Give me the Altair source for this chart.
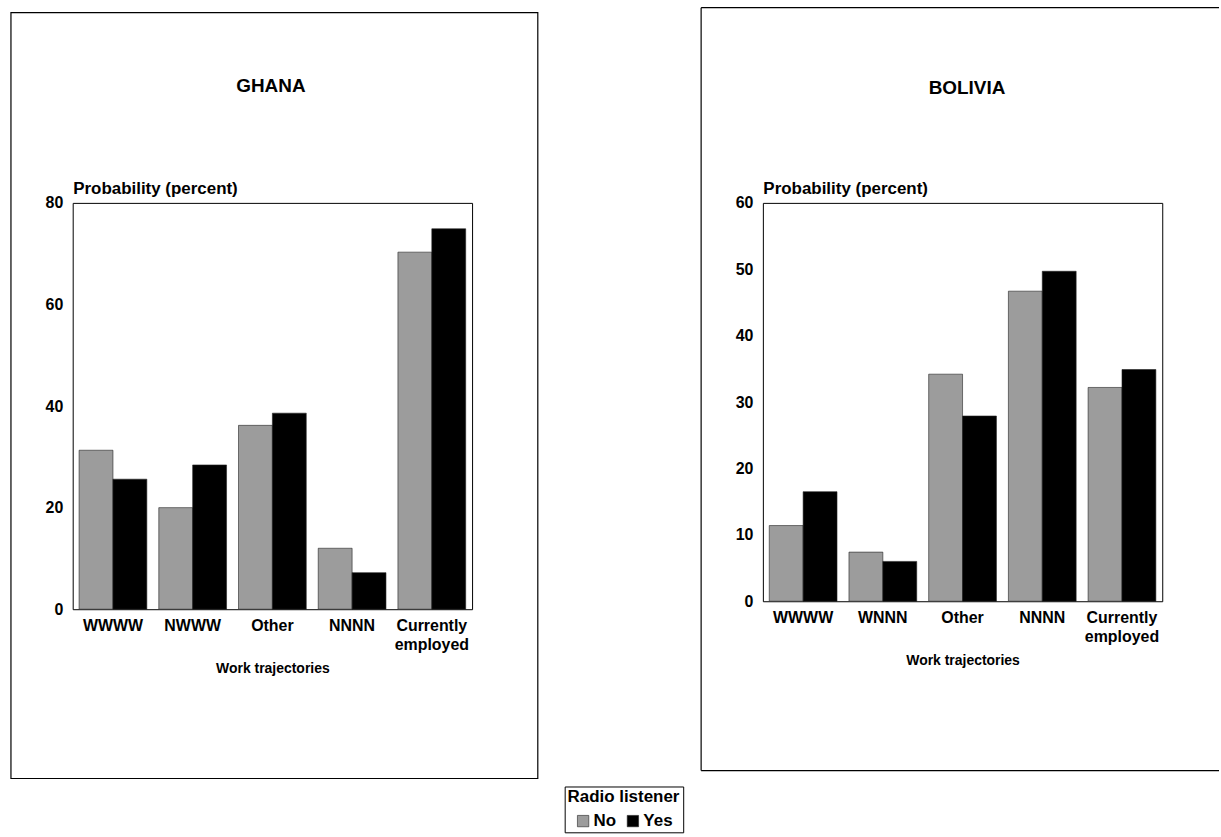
import altair as alt
import pandas as pd

# ---- data ----
listeners = ["No", "Yes"]

ghana_categories = ["WWWW", "NWWW", "Other", "NNNN", "Currently employed"]
ghana_no = [31.3, 20.0, 36.2, 12.0, 70.3]
ghana_yes = [25.6, 28.4, 38.6, 7.2, 74.9]
ghana_ticks = [0, 20, 40, 60, 80]

bolivia_categories = ["WWWW", "WNNN", "Other", "NNNN", "Currently employed"]
bolivia_no = [11.4, 7.4, 34.2, 46.7, 32.2]
bolivia_yes = [16.5, 6.0, 27.9, 49.7, 34.9]
bolivia_ticks = [0, 10, 20, 30, 40, 50, 60]

FONT = "Liberation Sans"
GRAY = "#9c9c9c"


def one(label):
    return pd.DataFrame({"t": [label]})


def panel(name, cats, no, yes, ticks, ymax, plot_h, title_xy, frame, top_offset, left_pad, full_frame):
    df = pd.DataFrame({
        "traj": cats * 2,
        "listener": ["No"] * len(cats) + ["Yes"] * len(cats),
        "value": no + yes,
    })
    bars = alt.Chart(df).mark_bar(stroke="#222222", strokeWidth=0.6).encode(
        x=alt.X("traj:N", sort=cats,
                scale=alt.Scale(paddingInner=0.15, paddingOuter=0.08),
                axis=alt.Axis(title="Work trajectories", labelAngle=0,
                              labelExpr="split(datum.label, ' ')",
                              labelPadding=8, labelFontSize=16, labelLineHeight=19,
                              titleFontSize=14, titlePadding=10)),
        xOffset=alt.XOffset("listener:N", sort=listeners,
                            scale=alt.Scale(paddingInner=0, paddingOuter=0)),
        y=alt.Y("value:Q", scale=alt.Scale(domain=[0, ymax], nice=False, zero=True),
                axis=alt.Axis(values=ticks, title="Probability (percent)",
                              titleAngle=0, titleX=0, titleY=-5, titleAlign="left",
                              titleBaseline="bottom", titleFontSize=17,
                              labelPadding=10, labelFontSize=16)),
        color=alt.Color("listener:N",
                        scale=alt.Scale(domain=listeners, range=[GRAY, "#000000"]),
                        legend=alt.Legend(title="Radio listener")),
    )
    title = alt.Chart(one(name)).mark_text(
        font=FONT, fontWeight="bold", fontSize=19, align="center", baseline="middle", color="black"
    ).encode(text="t:N", x=alt.value(title_xy[0]), y=alt.value(title_xy[1]))

    fx1, fy1, fx2, fy2 = frame
    layers = [bars, title]
    if full_frame:
        layers.append(alt.Chart(one("f")).mark_rect(fillOpacity=0, stroke="black", strokeWidth=1.2).encode(
            x=alt.value(fx1), x2=alt.value(fx2), y=alt.value(fy1), y2=alt.value(fy2)))
    else:
        layers.append(alt.Chart(one("t")).mark_rule(color="black", strokeWidth=1.2).encode(
            x=alt.value(fx1), x2=alt.value(fx2), y=alt.value(fy1)))
        layers.append(alt.Chart(one("b")).mark_rule(color="black", strokeWidth=1.2).encode(
            x=alt.value(fx1), x2=alt.value(fx2), y=alt.value(fy2)))
        layers.append(alt.Chart(one("l")).mark_rule(color="black", strokeWidth=1.2).encode(
            x=alt.value(fx1), y=alt.value(fy1), y2=alt.value(fy2)))
    # white anchor so the panels start at the canvas top / left
    layers.append(alt.Chart(one("a")).mark_rule(color="white", strokeWidth=1).encode(
        x=alt.value(left_pad), x2=alt.value(left_pad + 10), y=alt.value(top_offset)))
    return alt.layer(*layers).properties(width=401, height=plot_h)


ghana = panel("GHANA", ghana_categories, ghana_no, ghana_yes, ghana_ticks, 80, 408,
              (199, -117), (-62, -191, 467, 578), -201, -72, True)
bolivia = panel("BOLIVIA", bolivia_categories, bolivia_no, bolivia_yes, bolivia_ticks, 60, 400,
                (205, -115), (-62, -196, 458, 570), -201, -62, False)

chart = alt.hconcat(ghana, bolivia, spacing=160).resolve_scale(
    x="independent", y="independent", color="shared"
).properties(padding=0, background="white").configure_view(
    stroke="black", strokeWidth=1
).configure_axis(
    domain=False, ticks=False, grid=False, labelFont=FONT, titleFont=FONT,
    labelFontWeight="bold", titleFontWeight="bold", labelColor="black", titleColor="black"
).configure_legend(
    orient="none", legendX=494, legendY=586, direction="horizontal",
    strokeColor="black", padding=3, titleFont=FONT, labelFont=FONT,
    titleFontSize=17, labelFontSize=17, titleFontWeight="bold", labelFontWeight="bold",
    titleColor="black", labelColor="black", titleAnchor="middle", titlePadding=6,
    symbolType="square", symbolSize=130, symbolStrokeColor="#222222", symbolStrokeWidth=0.6,
    columnPadding=8, labelOffset=2
)

chart.save("out.html", embed_options={"renderer": "svg", "actions": False})
